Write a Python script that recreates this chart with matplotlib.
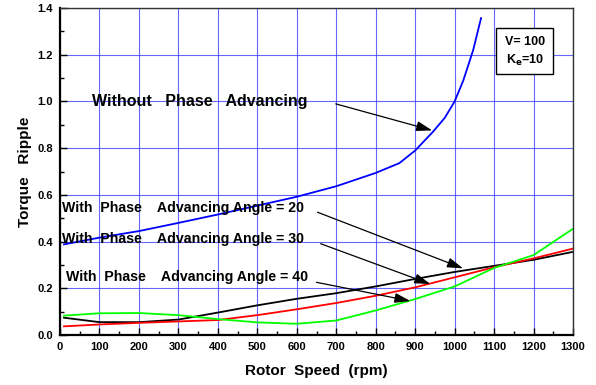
import matplotlib.pyplot as plt
from matplotlib.patches import Rectangle

plt.rcParams['font.family'] = ['Liberation Sans', 'DejaVu Sans']
plt.rcParams['font.weight'] = 'bold'

# valores
rpm_blue = [10, 100, 200, 300, 400, 500, 600, 700, 800, 860, 900, 945, 975, 1000, 1022, 1047, 1067]
without = [0.388, 0.417, 0.445, 0.48, 0.516, 0.554, 0.592, 0.637, 0.694, 0.736, 0.79, 0.87, 0.93, 1.0, 1.09, 1.22, 1.357]

rpm = [10, 100, 200, 300, 400, 500, 600, 700, 800, 900, 1000, 1100, 1200, 1300]
angle20 = [0.074, 0.055, 0.055, 0.066, 0.096, 0.127, 0.155, 0.179, 0.208, 0.24, 0.27, 0.296, 0.322, 0.356]
angle30 = [0.037, 0.045, 0.052, 0.058, 0.064, 0.085, 0.11, 0.137, 0.168, 0.204, 0.247, 0.29, 0.328, 0.37]
angle40 = [0.083, 0.093, 0.094, 0.085, 0.068, 0.054, 0.048, 0.062, 0.105, 0.154, 0.208, 0.287, 0.342, 0.455]

fig = plt.figure(figsize=(5.96, 3.85), dpi=100)
ax = fig.add_axes([0.1007, 0.1299, 0.8607, 0.8491])

ax.plot(rpm_blue, without, color='#0000ff', lw=1.3)
ax.plot(rpm, angle20, color='black', lw=1.3)
ax.plot(rpm, angle30, color='#ff0000', lw=1.3)
ax.plot(rpm, angle40, color='#00ff00', lw=1.3)

ax.set_xlim(0, 1300)
ax.set_ylim(0, 1.4)
ax.set_xticks(range(0, 1301, 100))
ax.set_xticks(range(50, 1300, 100), minor=True)
ax.set_yticks([0, 0.2, 0.4, 0.6, 0.8, 1.0, 1.2, 1.4])
ax.set_yticks([0.1, 0.3, 0.5, 0.7, 0.9, 1.1, 1.3], minor=True)
ax.set_yticklabels(['0.0', '0.2', '0.4', '0.6', '0.8', '1.0', '1.2', '1.4'])
ax.tick_params(which='both', direction='in', labelsize=8, width=1, top=False, right=False)
ax.tick_params(which='major', length=5, pad=5)
ax.tick_params(which='minor', length=3)
ax.grid(True, color='#4040ff', lw=0.8, alpha=0.8)
ax.set_axisbelow(True)
for s in ['left', 'bottom']:
    ax.spines[s].set_linewidth(1.6)
for s in ['top', 'right']:
    ax.spines[s].set_linewidth(1.0)
    ax.spines[s].set_color('#333333')

ax.set_xlabel('Rotor  Speed  (rpm)', fontsize=11, fontweight='bold', labelpad=9)
ax.set_ylabel('Torque   Ripple', fontsize=11, fontweight='bold', labelpad=4)

arr = dict(arrowstyle='-|>,head_length=0.8,head_width=0.25', color='black', lw=0.9, mutation_scale=12)
ax.text(81, 1.0, 'Without   Phase   Advancing', fontsize=11.5, fontweight='bold', va='center')
ax.annotate('', xy=(950, 0.873), xytext=(692, 0.993), arrowprops=arr)

ax.text(5, 0.545, 'With  Phase    Advancing Angle = 20', fontsize=10.2, fontweight='bold', va='center')
ax.annotate('', xy=(1028, 0.281), xytext=(646, 0.53), arrowprops=arr)

ax.text(5, 0.41, 'With  Phase    Advancing Angle = 30', fontsize=10.2, fontweight='bold', va='center')
ax.annotate('', xy=(945, 0.214), xytext=(654, 0.395), arrowprops=arr)

ax.text(15, 0.25, 'With  Phase    Advancing Angle = 40', fontsize=10.2, fontweight='bold', va='center')
ax.annotate('', xy=(895, 0.143), xytext=(643, 0.228), arrowprops=arr)

box = Rectangle((1104, 1.116), 146, 0.197, facecolor='white', edgecolor='black', lw=1, zorder=5)
ax.add_patch(box)
ax.text(1179, 1.254, 'V= 100', fontsize=9, fontweight='bold', ha='center', va='center', zorder=6)
ax.text(1179, 1.175, r'K$_\mathbf{e}$=10', fontsize=9, fontweight='bold', ha='center', va='center', zorder=6)

fig.savefig('out.png', dpi=100)
